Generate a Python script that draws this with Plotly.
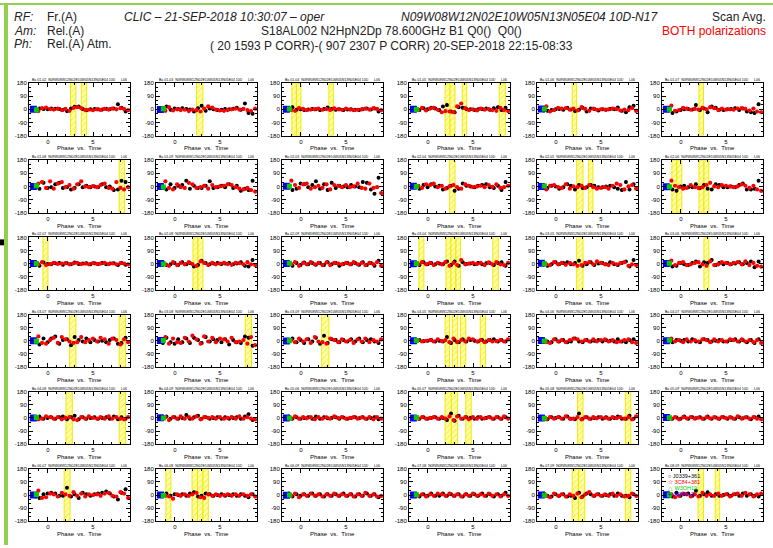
import plotly.graph_objects as go
from plotly.subplots import make_subplots

W, H = 773, 548

# scan times (hours) shared by all baselines
TIMES = [-1.2, -0.8, -0.35, 0.1, 0.5, 0.95, 1.4, 1.8, 2.25, 2.7, 3.1, 3.55,
         4.0, 4.4, 4.85, 5.3, 5.7, 6.15, 6.6, 7.0, 7.45, 7.9, 8.3, 8.75]
BLUE_T = -1.62
GREEN_T = -1.28

BASELINES = [f"{i:02d}-{j:02d}" for i in range(1, 10) for j in range(i + 1, 10)]

# phase (deg) per baseline: red points
RED = [
    [-12, 8, 12, 2, -2, 5, -5, 3, -10, 10, 15, 8, -5, -3, -6, 0, -4, 3, -2, 5, 0, 8, 3, -5],
    [-10, 15, -8, 0, -5, -3, -12, -2, -6, -15, 5, 20, 12, -2, -8, -10, -5, 0, 5, -2, 3, -5, -12, 5],
    [-5, -10, 8, 3, -5, -2, 0, 5, -3, 2, -4, 6, 0, -3, 5, -2, -6, -3, 0, 5, -2, 8, 3, -6],
    [-5, 10, -8, 5, 10, -3, -20, -12, -15, -20, 20, 40, 8, -5, 0, -8, 5, -3, 2, -5, -10, 10, -5, -12],
    [20, -15, -5, 10, 5, 8, -3, 5, -8, 15, 3, -10, 5, -3, 0, -2, 0, 5, 2, -8, -2, -5, 8, -10],
    [25, -10, -5, 10, 5, -3, 3, -2, 10, 0, 15, 8, -5, 5, -2, 0, -3, 5, 8, 3, -8, 5, -15, -20],
    [20, 30, -10, 35, -15, 20, 30, -5, 10, -15, 15, 35, 0, -5, 3, -5, 10, 20, -10, -15, 30, -10, -20, -5],
    [35, -10, -20, 15, -5, -10, 25, 15, -10, -5, 5, -15, 10, -5, 0, 5, 15, 10, -5, -15, -20, -10, -25, -35],
    [40, 10, -10, 15, 20, -15, -5, 5, -10, 15, -20, 10, 5, -5, 10, -5, 0, 20, -10, -15, 20, -10, -5, -45],
    [5, -10, 15, 10, 20, -5, 5, -15, 0, 10, -5, -15, 15, 5, -5, 0, 5, -5, 10, -3, 15, -10, -5, 5],
    [-20, 5, 10, -5, -10, 15, -15, 0, -5, 5, -10, 10, -5, -15, -10, -5, -15, 5, 20, 10, -20, 0, 10, -15],
    [40, 5, -5, -15, -10, 10, -5, -10, -5, 10, 25, 0, -5, 10, 5, 0, -5, 0, 15, 5, -10, 5, -20, -30],
    [-5, 10, -10, -3, 5, -2, 0, 3, -5, 2, 5, -3, 0, -5, 3, -2, 0, 5, -3, 2, -5, 3, 0, -5],
    [-5, -15, 10, -10, 5, -5, 10, -3, -15, 15, 5, -10, 5, -5, 0, 5, -3, -8, 5, 3, -5, 10, -5, -10],
    [-5, 10, -15, 5, -5, 10, -5, 5, -10, 8, -10, 5, 0, -5, 5, -5, 10, -5, 5, -10, 5, -5, 10, -15],
    [-5, 10, -5, 5, -10, 5, -5, 10, -15, 5, -10, 25, -5, 0, 5, -3, 5, -10, 8, -5, 10, -5, -10, 5],
    [-5, -10, 10, -5, 5, -8, 5, -5, -15, -10, 5, 10, -5, 15, 5, -5, -10, 5, -5, 3, 10, -15, -5, -10],
    [20, -10, 5, 10, -10, -5, 5, 10, -5, -15, 15, -10, -5, 10, 5, -5, 5, 10, -5, 15, -10, 5, -15, -20],
    [30, -15, -20, 5, 20, -15, 25, 10, -5, -15, -10, 25, -10, 5, 15, -5, 20, 10, -20, 15, 5, -25, 10, -10],
    [25, -20, 15, -10, -15, 20, -5, 35, 10, -20, 30, -5, 20, -10, 15, 10, -5, 20, -10, -5, 5, -20, 25, -30],
    [5, -10, 15, -5, 10, -15, 25, -5, -10, -20, 15, 5, -10, 10, -5, 5, -15, 10, -5, 15, -10, 5, -5, 10],
    [5, -5, 0, 5, -5, 10, -3, 5, -10, 15, -10, 5, -5, 15, 10, -5, 5, -10, 5, -5, -3, 5, -5, 10],
    [-10, -15, 10, -5, 5, -10, 5, 15, 10, -5, 5, -5, 10, -5, 5, 10, -5, 5, -10, -5, 5, 10, -10, -15],
    [15, -5, 5, -10, 10, -5, 5, -5, 10, 5, -10, 10, -5, 5, -5, 10, 5, -5, 10, -5, 5, -10, 5, -15],
    [-10, -5, 10, 5, -5, 5, -10, 0, 5, -10, -15, 5, -5, 10, 0, -5, 5, -5, 10, -5, 5, -5, -10, 5],
    [5, -15, 5, -5, 10, -5, 5, -5, 10, -10, 5, 0, 5, -5, 5, -5, 0, 5, -5, 10, -5, 5, -5, -10],
    [-5, 10, -5, 5, -3, 5, -10, 5, -5, 3, -5, 10, -2, 5, -5, 0, 5, -5, 3, -5, 5, -10, 5, -5],
    [-5, 5, -5, 0, 5, -5, 5, -5, 10, -15, 10, -5, 5, -10, 5, -5, 5, -3, 5, -5, 5, -5, 10, -5],
    [-10, 5, -5, 5, -5, 10, -5, -5, 5, -10, 5, -5, 5, -3, 5, 0, -5, 5, -2, 5, -5, 5, -10, 10],
    [-5, 5, -10, 5, -3, 5, -5, 2, -5, 5, -3, 5, -5, 5, -2, 5, -5, 10, -5, 3, -5, 5, -5, -10],
    [30, -20, -15, 10, 5, -10, 15, 5, -5, 20, -5, 10, -10, 5, 0, 5, -5, 10, 15, -5, -10, 20, 10, -20],
    [-5, -10, -25, 5, -5, 5, -5, 5, 15, -15, -20, 5, -5, 5, -5, 0, 5, -5, 5, -5, 5, -5, 5, -10],
    [-5, 10, -15, 5, -5, 10, -5, 5, -10, 5, -5, 10, -5, 5, -5, 5, -10, 5, -5, 15, -5, 5, -10, -5],
    [-5, 5, -10, 5, -5, 10, 5, -5, 10, -5, 5, -10, 5, -5, 10, -5, 5, -5, 10, -5, 5, -10, 5, -5],
    [-5, -15, 10, -5, 5, -10, 5, -5, 10, -15, 5, 20, -5, 5, -5, 5, -5, 10, -5, 5, -10, -5, 10, -5],
    [5, -15, -5, 10, 5, -10, 5, -10, 15, -5, 5, -5, 10, -5, 5, -10, 5, 10, -5, 15, 5, -10, 5, 10],
]

# phase (deg) per baseline: black points
BLACK = [
    [-5, 6, 2, 0, 5, 4, 2, -3, -12, 5, 18, 20, 2, -6, 0, 3, 0, -2, 4, 0, 5, 35, 10, -15],
    [0, 20, -3, 5, 2, 8, 3, -2, -15, 8, 25, -10, 5, 0, -5, -3, 2, 0, 4, 10, -3, 40, -25, -30],
    [5, 15, -3, 0, -5, -2, 3, 0, -5, 2, 12, 3, -3, 0, -5, -2, 0, -3, -5, 0, 5, -2, 5, -15],
    [0, -5, 8, 0, 10, 5, -5, 20, 30, -15, -20, 15, 10, 3, 0, -5, 0, 2, 5, -3, 8, 15, -5, 10],
    [-8, -10, -5, 0, 3, -3, 10, -2, -12, -3, 10, -15, 5, 2, -8, 0, -3, 2, 0, 12, -10, -20, 15, 25],
    [5, -25, -15, -5, 0, 3, -2, 30, -5, 5, -20, 20, 10, -3, -5, 0, 3, 8, -5, 5, -15, -20, -25, 35],
    [-5, -15, 25, -10, -5, 15, 25, -10, -5, -20, -10, 15, -5, 5, -5, 0, -5, 15, -5, 0, -25, -20, 40, 30],
    [-5, -20, 15, -10, 5, 10, 40, -15, 5, -10, -10, 5, 35, -10, -5, 5, -5, 15, -10, 5, -30, -15, -25, 40],
    [-5, -25, -15, 20, 15, -5, 10, 35, -15, 15, -25, 25, -10, 5, 0, -5, 10, 0, -5, 30, 25, -20, -50, 60],
    [0, -15, 10, -5, 15, 0, 5, -20, -10, 5, -30, -15, 20, 5, 0, -5, 5, 10, 15, -5, -10, 5, -25, 30],
    [5, -10, 5, 0, -15, -5, 15, 5, -20, 10, -10, -5, 10, 5, -5, -5, 0, 5, -5, -15, -25, 30, -20, 15],
    [-10, -20, -30, 0, 5, -5, -5, 15, -10, 10, -15, -20, 15, 10, -5, -5, 0, -5, 10, 20, -20, -20, -15, 40],
    [5, -15, 8, -3, -5, 2, 5, -8, 3, -5, 8, -2, 0, 3, -5, 2, -3, 5, -5, 0, 2, -10, 5, -8],
    [10, -10, -5, 5, -10, 10, -5, 5, -20, -10, 20, 5, -5, 0, 5, -3, 0, 5, -5, 0, 10, -15, -20, 25],
    [-5, -15, 5, -10, 8, -5, 5, -8, 5, -10, 10, -5, 5, -15, -3, 5, -5, 5, -8, 10, -10, 5, -15, 20],
    [5, -10, 10, -5, 5, -5, 0, -5, 15, -10, 15, -15, 10, -3, 0, -5, 5, -5, 3, 5, -10, 5, 10, -15],
    [5, -15, -5, 10, -5, 5, 10, -5, 5, 20, -15, -5, 10, -10, 0, 5, -5, 10, -5, -10, 5, 15, -20, 25],
    [-5, -20, -15, 5, -5, -10, 5, 15, -20, 10, 5, 25, -10, 5, -5, 5, -5, 0, 10, -5, 5, 15, -25, 15],
    [-10, -25, 15, -10, 15, 30, -20, 5, 10, -30, 25, 5, -5, 15, -10, 5, -5, 0, -10, 5, 15, -20, -15, 20],
    [-15, 20, -10, -20, 10, -10, 15, -15, 20, 5, -15, 25, -5, 10, 5, -10, 10, -25, 5, -10, -15, 30, 20, -35],
    [-5, 15, -10, 5, -15, 10, -5, 20, -20, 35, -15, 10, 5, -10, 5, -5, 10, -5, 15, -10, 5, 10, -5, -15],
    [-5, 5, -3, 0, 5, -5, 0, -5, 25, -15, 5, -10, 10, -5, 5, 0, -5, 5, -5, 5, 10, -5, 5, -5],
    [5, -5, -10, 10, -5, 5, -10, -5, 15, -5, -10, 5, -5, 0, 5, -5, 5, 0, -5, 10, -5, -10, 5, 10],
    [-5, -10, 5, 0, 5, -5, 10, -5, -10, 10, 5, -5, 0, 5, -5, -5, 5, 10, -5, 5, -10, 5, -15, 10],
    [5, 10, -5, 0, 5, -5, 5, 10, -10, 5, 15, -10, 5, -5, 0, 5, -5, 0, 5, -5, 10, -10, 5, -5],
    [-5, 10, -5, 5, -5, 0, 20, -5, 5, 15, -5, 5, -5, 0, 5, -5, 5, -5, 0, 5, -5, 10, 25, -15],
    [10, -5, 5, -5, 0, 5, -5, 10, -5, 5, -3, 0, 5, -5, 3, -5, 0, 5, -2, 5, -5, 0, 5, -10],
    [5, -5, 5, -5, 0, 5, -5, 0, -15, 30, -20, 15, -5, 5, 0, -5, 5, -5, 0, 5, -5, 5, -5, 5],
    [5, -10, 5, 0, 5, -5, 10, -5, -10, 30, -5, 5, -5, 0, 5, -5, 5, -5, 0, 10, -5, -5, 15, -5],
    [5, -5, 3, -5, 10, -5, 5, -2, 5, -5, 10, -5, 3, -5, 5, -5, 2, -5, 5, -3, 5, -10, 5, 10],
    [-10, -20, 5, 10, 15, 10, -5, -5, 50, -10, 5, -20, 15, 5, -5, 5, 10, 15, 25, 10, -10, -30, 15, 40],
    [5, 10, -5, 5, 0, 5, -5, 10, 20, -10, -5, 10, 5, -5, 0, 5, -5, 0, 5, -5, 5, -5, -15, 5],
    [10, -10, 5, -5, 5, -5, 10, -5, 5, -10, 5, -5, 5, -5, 10, -5, 5, -10, 5, -5, 10, -5, 5, -15],
    [5, -10, 5, -5, 10, -5, -5, 10, -5, 5, -5, 5, -10, 5, -5, 5, -5, 10, -5, 5, -10, 5, -5, 15],
    [10, -5, -10, 5, -5, 5, -10, -5, -20, 15, -10, 10, 5, -5, 5, -5, 0, 5, -5, 10, -5, -5, -15, 5],
    [-5, -10, 15, -5, 5, 10, -5, 30, -5, 5, 20, -5, 5, -5, 0, 5, -5, 5, -5, 10, -5, 5, -5, -10],
]

# calibrator phases at the start of the track
BLUE = [0, -2, 1, 0, 2, 0, -1, 0, 2, 1, 0, -2, 0, 1, 0, -1, 2, 0, 0, 1, -1, 0, 2, 0,
        0, 1, 0, -1, 0, 2, 0, 1, -1, 0, 0, 2]
GREEN = [-3, 4, 2, -2, 3, 0, 5, -4, 2, 0, 3, -2, 1, -3, 2, 0, -1, 3, -4, 2, 0, 1, -2, 3,
         2, -1, 0, 3, -2, 1, 4, -3, 0, 2, -1, 0]

# flagged time intervals (hours) per baseline
FLAGS = [
    [(2.5, 3.1), (3.7, 4.3)], [(2.4, 3.1)], [(-1.0, -0.5), (-0.5, 0.0), (3.1, 3.6)],
    [(1.9, 2.45), (2.45, 3.0), (3.8, 4.3), (7.9, 8.6)], [(1.8, 2.3)], [(2.0, 2.5)],
    [(7.9, 8.5)], [], [], [(2.4, 3.0)], [(2.3, 3.0), (3.6, 4.1)],
    [(-1.0, -0.45), (-0.45, 0.1), (2.0, 2.55), (2.55, 3.1)],
    [(-0.55, 0.0)], [(2.0, 2.55), (2.55, 3.1)], [],
    [(-1.0, -0.45), (2.0, 2.55), (2.55, 3.1), (3.1, 3.6), (7.2, 7.8)], [(2.3, 3.0)], [(2.55, 3.1)],
    [(2.4, 3.1), (7.9, 8.6)], [(7.8, 8.5)], [(2.3, 3.1)],
    [(1.9, 2.4), (2.7, 3.3), (3.6, 4.2), (5.8, 6.4)], [], [],
    [(2.0, 2.7), (7.9, 8.6)], [], [], [(1.9, 2.6), (2.6, 3.3), (4.2, 4.8)],
    [(2.4, 3.0), (7.7, 8.3)], [],
    [(1.8, 2.45)], [(-1.0, -0.45), (1.9, 2.5), (2.5, 3.1), (3.1, 3.7)], [], [],
    [(1.8, 2.5), (2.5, 3.2), (7.7, 8.3)], [(1.9, 2.5), (3.8, 4.3)],
]

STATIONS = "N09W08W12N02E10W05N13N05E04"
LEGEND_NAMES = ["J0339+361", "3C84+381", "W3OH19", "J0340+3"]
LEGEND_COLORS = ["black", "red", "#00cc00", "blue"]
LEGEND_SYMBOLS = ["○", "☆", "△", "+"]

COL_LEFT = [29, 156, 282, 409, 537, 662]
ROW_TOP = [81, 159, 237, 315, 393, 471]
PW, PH = 101, 53
XR = [-2.1, 9.1]

fig = make_subplots(rows=6, cols=6)
fig.update_layout(barmode="overlay")

ann = []
for k in range(36):
    r, c = divmod(k, 6)
    row, col = r + 1, c + 1
    for (a, b) in FLAGS[k]:
        fig.add_trace(go.Bar(
            x=[(a + b) / 2], y=[360], base=[-180], width=[b - a],
            marker=dict(color="rgba(255,255,170,0.9)",
                        line=dict(color="#f2ea00", width=1),
                        pattern=dict(shape="/", fgcolor="#f2e400", size=4, solidity=0.35)),
            showlegend=False, hoverinfo="skip"), row=row, col=col)
    fig.add_trace(go.Scatter(
        x=[t - 0.14 for t in TIMES], y=BLACK[k], mode="markers",
        marker=dict(color="black", size=4),
        error_y=dict(type="constant", value=6, thickness=1, width=1, color="black"),
        showlegend=False), row=row, col=col)
    fig.add_trace(go.Scatter(
        x=[t + 0.14 for t in TIMES], y=RED[k], mode="markers",
        marker=dict(color="red", size=4.2),
        error_y=dict(type="constant", value=5, thickness=1, width=1, color="red"),
        showlegend=False), row=row, col=col)
    fig.add_trace(go.Scatter(
        x=[BLUE_T], y=[BLUE[k]], mode="markers",
        marker=dict(color="blue", size=7, symbol="square"),
        error_y=dict(type="constant", value=10, thickness=3, width=0, color="blue"),
        showlegend=False), row=row, col=col)
    fig.add_trace(go.Scatter(
        x=[GREEN_T], y=[GREEN[k]], mode="markers",
        marker=dict(color="#00cc00", size=5, symbol="square"),
        error_y=dict(type="constant", value=6, thickness=2, width=0, color="#00cc00"),
        showlegend=False), row=row, col=col)

    left, top = COL_LEFT[c], ROW_TOP[r]
    sfx = "" if k == 0 else str(k + 1)
    axis_common = dict(showline=True, linecolor="black", linewidth=1, mirror="ticks",
                       ticks="inside", ticklen=4, tickwidth=1, tickcolor="black",
                       showgrid=False, zeroline=False,
                       tickfont=dict(size=6, color="black", family="Liberation Sans"))
    fig.layout["xaxis" + sfx].update(
        domain=[left / W, (left + PW) / W], range=XR,
        tickvals=[0, 5], ticktext=["0", "5"],
        minor=dict(dtick=1, tick0=0, ticks="inside", ticklen=2, tickcolor="black"),
        **axis_common)
    fig.layout["yaxis" + sfx].update(
        domain=[1 - (top + PH) / H, 1 - top / H], range=[-180, 180],
        tickvals=[-180, -90, 0, 90, 180], ticktext=["-180", "-90", "0", "90", "180"],
        minor=dict(dtick=30, tick0=0, ticks="inside", ticklen=2, tickcolor="black"),
        **axis_common)

    ann.append(dict(x=(left + 1) / W, y=1 - (top + 1) / H, xref="paper", yref="paper",
                    xanchor="left", yanchor="bottom", showarrow=False,
                    text=f"Ba {BASELINES[k]}  {STATIONS} 10D",
                    font=dict(size=3.5, color="black", family="Liberation Sans")))
    ann.append(dict(x=(left + PW - 1) / W, y=1 - (top + 1) / H, xref="paper", yref="paper",
                    xanchor="right", yanchor="bottom", showarrow=False,
                    text="L06", font=dict(size=3.5, color="black", family="Liberation Sans")))
    ann.append(dict(x=(left + PW / 2) / W, y=1 - (top + PH + 13) / H, xref="paper", yref="paper",
                    xanchor="center", yanchor="middle", showarrow=False,
                    text="Phase  vs.  Time",
                    font=dict(size=6, color="black", family="Liberation Sans")))

# source legend inside the last panel
for i, (name, col) in enumerate(zip(LEGEND_NAMES, LEGEND_COLORS)):
    ann.append(dict(x=666 / W, y=1 - (478 + i * 6) / H, xref="paper", yref="paper",
                    xanchor="left", yanchor="middle", showarrow=False,
                    text=f"{LEGEND_SYMBOLS[i]} {name}",
                    font=dict(size=5.5, color=col, family="Liberation Sans")))

hdr = dict(size=12, color="#222222", family="Liberation Sans")


def txt(x, y, s, anchor="left", color=None, italic=False):
    f = dict(hdr)
    if color:
        f["color"] = color
    s2 = f"<i>{s}</i>" if italic else s
    ann.append(dict(x=x / W, y=1 - y / H, xref="paper", yref="paper", xanchor=anchor,
                    yanchor="middle", showarrow=False, text=s2, font=f))


txt(12, 14, "RF:", italic=True)
txt(12, 28, "Am:", italic=True)
txt(12, 41, "Ph:", italic=True)
txt(45, 14, "Fr.(A)")
txt(45, 28, "Rel.(A)")
txt(45, 41, "Rel.(A) Atm.")
txt(122, 14, "CLIC – 21-SEP-2018 10:30:07 – oper", italic=True)
txt(660, 14, "N09W08W12N02E10W05N13N05E04 10D-N17", anchor="right", italic=True)
txt(391, 28, "S18AL002 N2HpN2Dp 78.600GHz B1 Q0()  Q0()", anchor="center")
txt(391, 43, "( 20 1593 P CORR)-( 907 2307 P CORR) 20-SEP-2018 22:15-08:33", anchor="center")
txt(768, 14, "Scan Avg.", anchor="right")
txt(768, 28, "BOTH polarizations", anchor="right", color="red")

shapes = [
    dict(type="rect", xref="paper", yref="paper", x0=0, x1=1, y0=1 - 2 / H, y1=1,
         fillcolor="#92d050", line=dict(width=0)),
    dict(type="rect", xref="paper", yref="paper", x0=4 / W, x1=8 / W, y0=0, y1=1,
         fillcolor="#92d050", line=dict(width=0)),
    dict(type="rect", xref="paper", yref="paper", x0=0, x1=4 / W, y0=1 - 245 / H, y1=1 - 239 / H,
         fillcolor="black", line=dict(width=0)),
]

fig.update_layout(width=W, height=H, margin=dict(l=0, r=0, t=0, b=0),
                  paper_bgcolor="white", plot_bgcolor="white",
                  annotations=ann, shapes=shapes, showlegend=False)
fig.write_html("out.html")
